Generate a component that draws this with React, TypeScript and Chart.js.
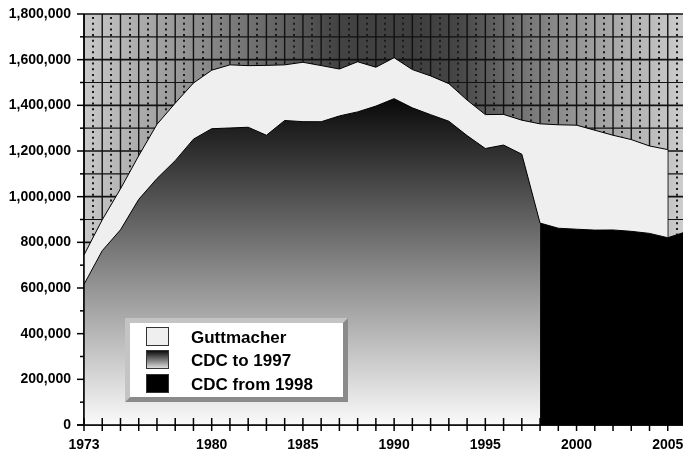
import React, { useEffect, useRef } from 'react';
import { Chart, registerables } from 'chart.js';

Chart.register(...registerables);

// ---- data ----
const years = [1973, 1974, 1975, 1976, 1977, 1978, 1979, 1980, 1981, 1982, 1983, 1984, 1985, 1986, 1987, 1988, 1989, 1990, 1991, 1992, 1993, 1994, 1995, 1996, 1997, 1998, 1999, 2000, 2001, 2002, 2003, 2004, 2005, 2006];
const guttmacherYears = [1973, 1974, 1975, 1976, 1977, 1978, 1979, 1980, 1981, 1982, 1983, 1984, 1985, 1986, 1987, 1988, 1989, 1990, 1991, 1992, 1993, 1994, 1995, 1996, 1997, 1998, 1999, 2000, 2001, 2002, 2003, 2004, 2005];
const guttmacher = [744600, 898600, 1034200, 1179300, 1316700, 1409600, 1497700, 1553900, 1577300, 1573900, 1575000, 1577200, 1588600, 1574000, 1559100, 1590800, 1566900, 1608600, 1556500, 1528900, 1495000, 1423000, 1359400, 1360200, 1335000, 1319000, 1314800, 1313000, 1291000, 1269000, 1250000, 1222100, 1206200];
const cdcTo1997Years = [1973, 1974, 1975, 1976, 1977, 1978, 1979, 1980, 1981, 1982, 1983, 1984, 1985, 1986, 1987, 1988, 1989, 1990, 1991, 1992, 1993, 1994, 1995, 1996, 1997];
const cdcTo1997 = [615831, 763476, 854853, 988267, 1079430, 1157776, 1251921, 1297606, 1300760, 1303980, 1268987, 1333521, 1328570, 1328112, 1353671, 1371285, 1396658, 1429247, 1388937, 1359146, 1330414, 1267415, 1210883, 1225937, 1186039];
const cdcFrom1998Years = [1998, 1999, 2000, 2001, 2002, 2003, 2004, 2005, 2006];
const cdcFrom1998 = [884273, 861789, 857475, 853485, 854122, 848163, 839226, 820151, 846181];
const xTickLabels = [1973, 1980, 1985, 1990, 1995, 2000, 2005];
const yMax = 1800000;
const yLabelStep = 200000;
const yGridStep = 100000;
const seriesNames = ['Guttmacher', 'CDC to 1997', 'CDC from 1998'];

const FONT = "'Liberation Sans', Arial, Helvetica, sans-serif";

const toPoints = (xs: number[], ys: number[]) => xs.map((x, i) => ({ x, y: ys[i] }));

const backgroundGridPlugin = {
  id: 'bgGrid',
  beforeDatasetsDraw(chart: any) {
    const { ctx, chartArea: a, scales } = chart;
    const x = scales.x;
    const y = scales.y;
    ctx.save();
    const g = ctx.createLinearGradient(a.left, 0, a.right, 0);
    g.addColorStop(0, '#c9c9c9');
    g.addColorStop(0.2, '#8a8a8a');
    g.addColorStop(0.42, '#444444');
    g.addColorStop(0.55, '#3e3e3e');
    g.addColorStop(0.62, '#464646');
    g.addColorStop(0.79, '#8c8c8c');
    g.addColorStop(1, '#cecece');
    ctx.fillStyle = g;
    ctx.fillRect(a.left, a.top, a.right - a.left, a.bottom - a.top);

    // dotted half-year lines
    ctx.strokeStyle = '#1a1a1a';
    ctx.lineWidth = 2;
    ctx.setLineDash([2, 3.7]);
    for (let yr = x.min; yr < x.max; yr++) {
      const px = Math.round(x.getPixelForValue(yr + 0.5));
      ctx.beginPath();
      ctx.moveTo(px, a.top + 3);
      ctx.lineTo(px, a.bottom);
      ctx.stroke();
    }
    ctx.setLineDash([]);
    // solid year lines
    ctx.strokeStyle = '#111';
    ctx.lineWidth = 1.4;
    for (let yr = x.min; yr <= x.max; yr++) {
      const px = x.getPixelForValue(yr);
      ctx.beginPath();
      ctx.moveTo(px, a.top);
      ctx.lineTo(px, a.bottom);
      ctx.stroke();
    }
    // horizontal lines
    for (let v = 0; v <= yMax; v += yGridStep) {
      const py = y.getPixelForValue(v);
      ctx.lineWidth = v % yLabelStep === 0 ? 1.6 : 1.2;
      ctx.beginPath();
      ctx.moveTo(a.left, py);
      ctx.lineTo(a.right, py);
      ctx.stroke();
    }
    ctx.restore();
  },
  afterDatasetsDraw(chart: any) {
    const { ctx, chartArea: a, scales } = chart;
    const x = scales.x;
    const y = scales.y;
    ctx.save();
    ctx.strokeStyle = '#000';
    ctx.lineWidth = 1.5;
    // axes
    ctx.beginPath();
    ctx.moveTo(a.left, a.top);
    ctx.lineTo(a.left, a.bottom);
    ctx.moveTo(a.left - 7, a.bottom);
    ctx.lineTo(a.right, a.bottom);
    ctx.stroke();
    // x ticks
    for (let yr = x.min; yr <= x.max; yr++) {
      const px = x.getPixelForValue(yr);
      ctx.beginPath();
      ctx.moveTo(px, a.bottom - 7);
      ctx.lineTo(px, a.bottom + 6);
      ctx.stroke();
    }
    // y ticks
    for (let v = 0; v <= yMax; v += yGridStep) {
      const py = y.getPixelForValue(v);
      const len = v % yLabelStep === 0 ? 7 : 4;
      ctx.beginPath();
      ctx.moveTo(a.left - len, py);
      ctx.lineTo(a.left, py);
      ctx.stroke();
    }
    ctx.restore();
  },
  afterDraw(chart: any) {
    const { ctx } = chart;
    // legend placed in the lower-left of the plot
    const lx = 125, ly = 318, lw = 223, lh = 84, b = 5;
    ctx.save();
    // bevel
    ctx.fillStyle = '#c4c4c4';
    ctx.beginPath();
    ctx.moveTo(lx, ly); ctx.lineTo(lx + lw, ly); ctx.lineTo(lx + lw - b, ly + b);
    ctx.lineTo(lx + b, ly + b); ctx.lineTo(lx + b, ly + lh - b); ctx.lineTo(lx, ly + lh);
    ctx.closePath(); ctx.fill();
    ctx.fillStyle = '#8a8a8a';
    ctx.beginPath();
    ctx.moveTo(lx + lw, ly); ctx.lineTo(lx + lw, ly + lh); ctx.lineTo(lx, ly + lh);
    ctx.lineTo(lx + b, ly + lh - b); ctx.lineTo(lx + lw - b, ly + lh - b); ctx.lineTo(lx + lw - b, ly + b);
    ctx.closePath(); ctx.fill();
    ctx.fillStyle = '#ffffff';
    ctx.fillRect(lx + b, ly + b, lw - 2 * b, lh - 2 * b);

    const sx = 146, sw = 23, sh = 19;
    const rows = [327, 350, 374];
    rows.forEach((ry, i) => {
      let fill: any;
      if (i === 0) fill = '#efefef';
      else if (i === 1) {
        const gg = ctx.createLinearGradient(0, ry, 0, ry + sh);
        gg.addColorStop(0, '#000');
        gg.addColorStop(1, '#e8e8e8');
        fill = gg;
      } else fill = '#000';
      ctx.fillStyle = fill;
      ctx.fillRect(sx, ry, sw, sh);
      ctx.strokeStyle = '#333';
      ctx.lineWidth = 1;
      ctx.strokeRect(sx + 0.5, ry + 0.5, sw - 1, sh - 1);
      ctx.fillStyle = '#000';
      ctx.font = `bold 17px ${FONT}`;
      ctx.textBaseline = 'middle';
      ctx.textAlign = 'left';
      ctx.fillText(seriesNames[i], 191, ry + sh / 2 + 1.5);
    });
    ctx.restore();
  },
};

export default function App() {
  const canvasRef = useRef<HTMLCanvasElement | null>(null);

  useEffect(() => {
    const canvas = canvasRef.current;
    if (!canvas) return;
    const cdcGradient = (c: any) => {
      const chart = c.chart;
      const { ctx, chartArea, scales } = chart;
      if (!chartArea) return '#555';
      const g = ctx.createLinearGradient(0, scales.y.getPixelForValue(1480000), 0, scales.y.getPixelForValue(0));
      g.addColorStop(0, '#000000');
      g.addColorStop(1, '#fafafa');
      return g;
    };
    const chart = new Chart(canvas, {
      type: 'line',
      data: {
        datasets: [
          {
            label: seriesNames[0],
            data: toPoints(guttmacherYears, guttmacher),
            fill: 'origin',
            backgroundColor: '#efefef',
            borderColor: '#000',
            borderWidth: 1,
            pointRadius: 0,
            tension: 0,
            order: 3,
          },
          {
            label: seriesNames[1],
            data: [...toPoints(cdcTo1997Years, cdcTo1997), { x: cdcFrom1998Years[0], y: cdcFrom1998[0] }],
            fill: 'origin',
            backgroundColor: cdcGradient,
            borderColor: '#000',
            borderWidth: 1,
            pointRadius: 0,
            tension: 0,
            order: 2,
          },
          {
            label: seriesNames[2],
            data: toPoints(cdcFrom1998Years, cdcFrom1998),
            fill: 'origin',
            backgroundColor: '#000',
            borderColor: '#000',
            borderWidth: 1,
            pointRadius: 0,
            tension: 0,
            order: 1,
          },
        ],
      },
      options: {
        animation: false,
        responsive: false,
        devicePixelRatio: 1,
        layout: { padding: { left: 0, right: 2, top: 14, bottom: 0 } },
        plugins: { legend: { display: false }, tooltip: { enabled: false } },
        scales: {
          x: {
            type: 'linear',
            min: years[0],
            max: years[years.length - 1],
            grid: { display: false, drawTicks: true, tickLength: 12 },
            border: { display: false },
            ticks: {
              stepSize: 1,
              autoSkip: false,
              maxRotation: 0,
              padding: 0,
              color: '#000',
              font: { family: FONT, weight: 'bold', size: 14 },
              callback: (v: any) => (xTickLabels.includes(Number(v)) ? String(v) : ''),
            },
            afterFit: (s: any) => {
              s.height = 26;
            },
          },
          y: {
            min: 0,
            max: yMax,
            grid: { display: false, drawTicks: true, tickLength: 13 },
            border: { display: false },
            ticks: {
              stepSize: yLabelStep,
              padding: 0,
              color: '#000',
              font: { family: FONT, weight: 'bold', size: 14 },
              callback: (v: any) => Number(v).toLocaleString('en-US'),
            },
            afterFit: (s: any) => {
              s.width = 84;
            },
          },
        },
      },
      plugins: [backgroundGridPlugin],
    });
    return () => chart.destroy();
  }, []);

  return (
    <div style={{ position: 'fixed', left: 0, top: 0, width: 683, height: 451, overflow: 'hidden', background: '#fff' }}>
      <canvas ref={canvasRef} width={688} height={451} style={{ display: 'block', width: 688, height: 451 }} />
    </div>
  );
}
